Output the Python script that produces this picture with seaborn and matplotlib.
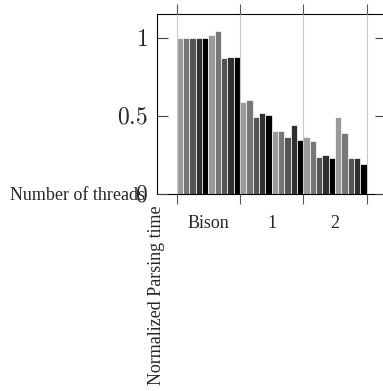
import matplotlib
matplotlib.use("Agg")
import matplotlib.pyplot as plt
import seaborn as sns
import pandas as pd
import numpy as np

# ---- data ----
groups = ["Bison", "1", "2"]
bars = [f"b{i}" for i in range(1, 11)]
bison_vals = [1.0, 1.0, 1.0, 1.0, 1.0, 1.02, 1.043, 0.87, 0.88, 0.88]
one_vals = [0.59, 0.603, 0.496, 0.517, 0.504, 0.406, 0.402, 0.363, 0.442, 0.344]
two_vals = [0.367, 0.34, 0.239, 0.25, 0.229, 0.49, 0.393, 0.231, 0.231, 0.194]
yticks = [0, 0.5, 1]
ytick_labels = ["$0$", "$0.5$", "$1$"]

grays = ["#9a9a9a", "#777777", "#555555", "#303030", "#000000"]
palette = grays * 2

rows = []
for g, vals in zip(groups, [bison_vals, one_vals, two_vals]):
    for b, v in zip(bars, vals):
        rows.append({"group": g, "bar": b, "value": v})
df = pd.DataFrame(rows)

sns.set_style("ticks")
plt.rcParams["font.family"] = ["Liberation Serif", "DejaVu Serif"]
plt.rcParams["mathtext.fontset"] = "cm"

fig = plt.figure(figsize=(3.83, 3.91), dpi=100)
W, H = 383, 391
left_px, right_px, top_px, bot_px = 157, 386.4, 14, 194
ax = fig.add_axes([left_px / W, 1 - bot_px / H, (right_px - left_px) / W, (bot_px - top_px) / H])

sns.barplot(data=df, x="group", y="value", hue="bar", order=groups, hue_order=bars,
            palette=palette, width=1.0, gap=0, legend=False, ax=ax,
            edgecolor="white", linewidth=0.5, saturation=1, err_kws={"linewidth": 0})

ax.set_xlim(-0.81, 2.81)
ax.set_ylim(0, 1.152)

# x ticks: labels at group centers, tick marks at group boundaries
ax.set_xticks(range(len(groups)))
ax.set_xticklabels(groups, fontsize=13)
ax.tick_params(axis="x", which="major", length=0, pad=15)
ax.set_xticks([-0.5, 0.5, 1.5, 2.5], minor=True)
ax.tick_params(axis="x", which="minor", direction="out", length=7.5, width=0.8,
               color="#555555", top=True, bottom=True)
ax.grid(axis="x", which="minor", color="#c8c8c8", linewidth=0.8)
ax.set_axisbelow(False)

# y ticks
ax.set_yticks(yticks)
ax.set_yticklabels(ytick_labels, fontsize=17)
ax.tick_params(axis="y", which="major", direction="in", length=8, width=0.8,
               color="#444444", left=True, right=True, pad=6.5)
for t in ax.yaxis.get_major_ticks():
    pass
ax.yaxis.get_major_ticks()[2].tick1line.set_color("#bbbbbb")
ax.yaxis.get_major_ticks()[2].tick2line.set_color("#bbbbbb")

for s in ax.spines.values():
    s.set_visible(True)
    s.set_color("black")
    s.set_linewidth(0.8)

axw = right_px - left_px
axh = bot_px - top_px
ax.set_xlabel("Number of threads", fontsize=13, ha="left", va="baseline")
ax.xaxis.set_label_coords((10 - left_px) / axw, -(200 - bot_px) / axh)
ax.set_ylabel("Normalized Parsing time", fontsize=13, va="center", ha="center")
ax.yaxis.set_label_coords((156.5 - left_px) / axw, -(295 - bot_px) / axh)

fig.savefig("out.png", dpi=100)
